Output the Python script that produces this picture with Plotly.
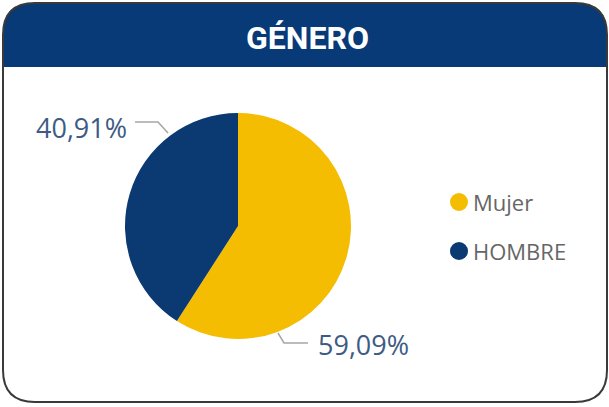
import plotly.graph_objects as go

# ---- data ----
labels = ["Mujer", "HOMBRE"]
values = [13, 9]
colors = ["#F5BD02", "#0B3A73"]
title_text = "GÉNERO"

W, H = 609, 407


def px(x):
    return x / W


def py(y):
    return 1 - y / H


total = sum(values)
pct_text = [f"{v / total * 100:.2f}%".replace(".", ",") for v in values]

# pie geometry (pixels)
cx, cy, r = 238, 226, 113

fig = go.Figure()
fig.add_trace(go.Pie(
    labels=labels,
    values=values,
    sort=False,
    direction="clockwise",
    rotation=0,
    marker=dict(colors=colors, line=dict(width=0)),
    textinfo="none",
    showlegend=False,
    domain=dict(x=[px(cx - r), px(cx + r)], y=[py(cy + r), py(cy - r)]),
))

shapes = []


def rr_path(x0, y0, x1, y1, rad, top_only=False):
    if top_only:
        p = (f"M {px(x0)},{py(y1)} L {px(x0)},{py(y0 + rad)} "
             f"Q {px(x0)},{py(y0)} {px(x0 + rad)},{py(y0)} "
             f"L {px(x1 - rad)},{py(y0)} "
             f"Q {px(x1)},{py(y0)} {px(x1)},{py(y0 + rad)} "
             f"L {px(x1)},{py(y1)} Z")
    else:
        p = (f"M {px(x0 + rad)},{py(y0)} L {px(x1 - rad)},{py(y0)} "
             f"Q {px(x1)},{py(y0)} {px(x1)},{py(y0 + rad)} "
             f"L {px(x1)},{py(y1 - rad)} "
             f"Q {px(x1)},{py(y1)} {px(x1 - rad)},{py(y1)} "
             f"L {px(x0 + rad)},{py(y1)} "
             f"Q {px(x0)},{py(y1)} {px(x0)},{py(y1 - rad)} "
             f"L {px(x0)},{py(y0 + rad)} "
             f"Q {px(x0)},{py(y0)} {px(x0 + rad)},{py(y0)} Z")
    return p


# header band
shapes.append(dict(type="path", xref="paper", yref="paper",
                   path=rr_path(3, 3, 607, 67, 30, top_only=True),
                   fillcolor="#083A78", line=dict(width=0), layer="below"))
# card border
shapes.append(dict(type="path", xref="paper", yref="paper",
                   path=rr_path(3, 3, 607, 402, 32),
                   fillcolor="rgba(0,0,0,0)", line=dict(color="#3A3A3A", width=2)))

# leader lines
leader_color = "#A6A6A6"
shapes.append(dict(type="path", xref="paper", yref="paper",
                   path=f"M {px(168)},{py(133)} L {px(158)},{py(122)} L {px(135)},{py(122)}",
                   line=dict(color=leader_color, width=1.5)))
shapes.append(dict(type="path", xref="paper", yref="paper",
                   path=f"M {px(278)},{py(333)} L {px(284)},{py(343)} L {px(308)},{py(343)}",
                   line=dict(color=leader_color, width=1.5)))

annotations = []
annotations.append(dict(text=f"<b>{title_text}</b>", x=px(307), y=py(38), xref="paper", yref="paper",
                        showarrow=False, xanchor="center", yanchor="middle",
                        font=dict(family="Roboto", size=32, color="white")))

label_font = dict(family="Open Sans", size=27, color="#3D5B84")
annotations.append(dict(text=pct_text[1], x=px(129), y=py(127), xref="paper", yref="paper",
                        showarrow=False, xanchor="right", yanchor="middle", font=label_font))
annotations.append(dict(text=pct_text[0], x=px(316), y=py(344), xref="paper", yref="paper",
                        showarrow=False, xanchor="left", yanchor="middle", font=label_font))

# custom legend
leg_y = [202, 251]
for lab, col, yy in zip(labels, colors, leg_y):
    shapes.append(dict(type="circle", xref="paper", yref="paper",
                       x0=px(450), x1=px(468), y0=py(yy + 9), y1=py(yy - 9),
                       fillcolor=col, line=dict(width=0)))
    annotations.append(dict(text=lab, x=px(471), y=py(yy), xref="paper", yref="paper",
                            showarrow=False, xanchor="left", yanchor="middle",
                            font=dict(family="Open Sans", size=22, color="#666666")))

fig.update_layout(
    width=W, height=H, autosize=False,
    margin=dict(l=0, r=0, t=0, b=0),
    paper_bgcolor="white", plot_bgcolor="white",
    shapes=shapes, annotations=annotations,
)

fig.write_html("out.html", config={"displayModeBar": False},
               post_script="document.body.style.margin='0';document.body.style.overflow='hidden';")
